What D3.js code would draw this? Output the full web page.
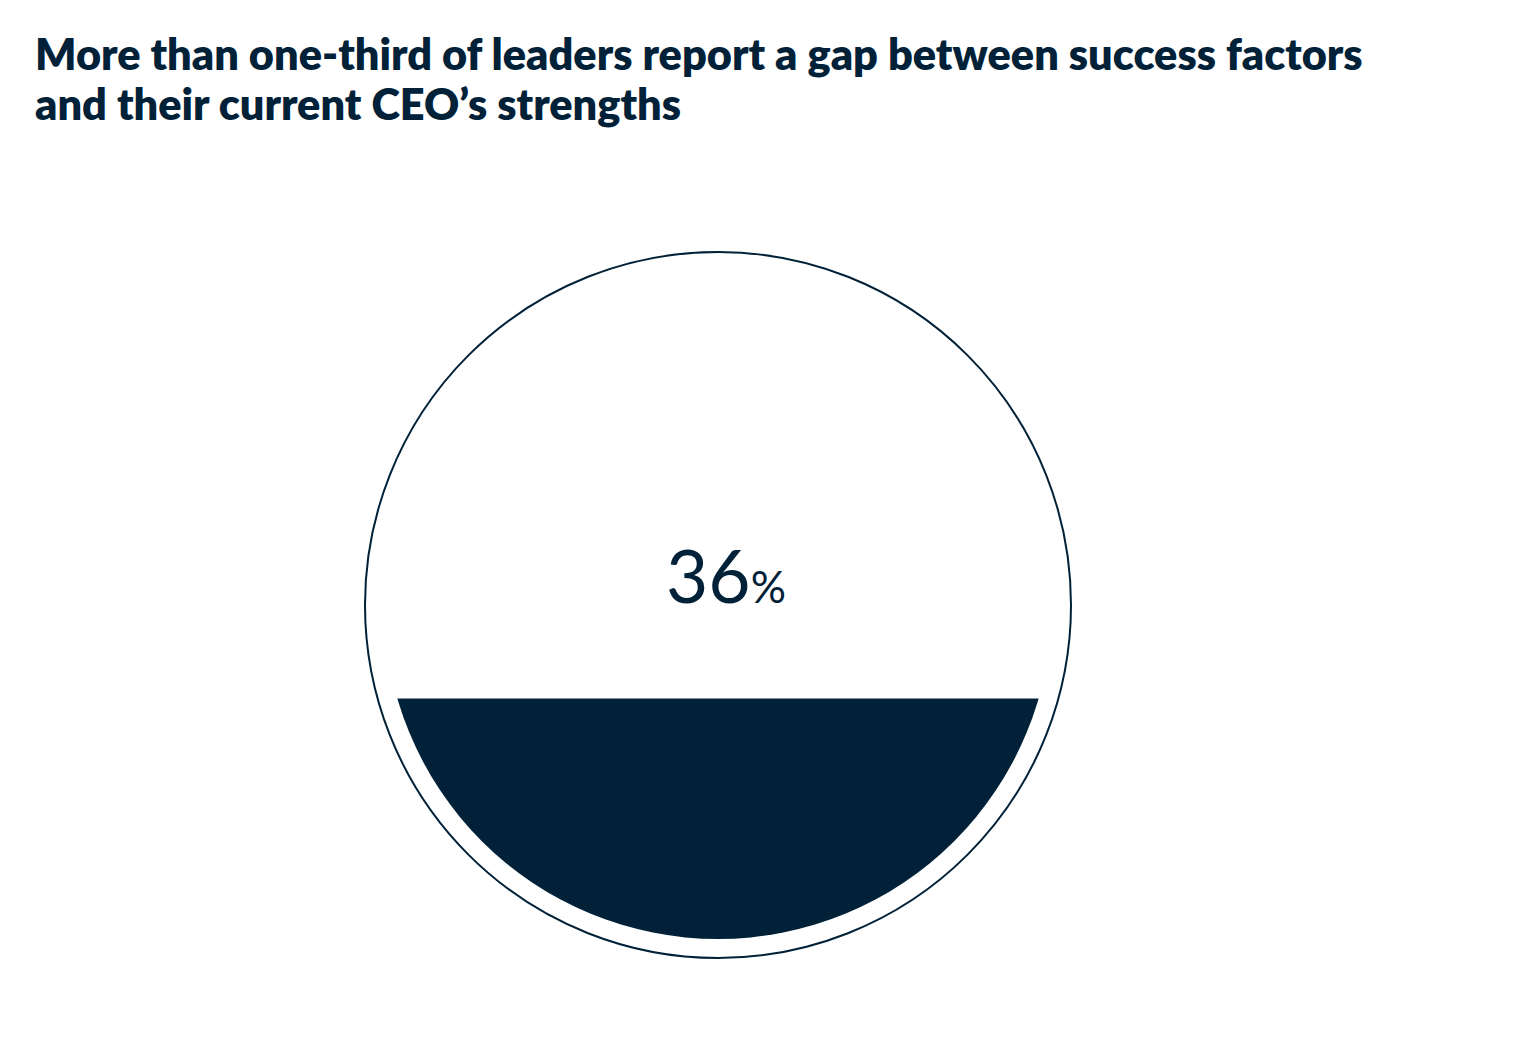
<!DOCTYPE html>
<html>
<head>
<meta charset="utf-8">
<script src="https://cdn.jsdelivr.net/npm/d3@7"></script>
<style>
  body { margin: 0; background: #ffffff; }
  svg { display: block; }
</style>
</head>
<body>
<div id="chart"></div>
<script>
// data
var titleLines = ["More than one-third of leaders report a gap between success factors",
                  "and their current CEO\u2019s strengths"];
var shareValue = [0.36];
var shareLabel = ["36"];

var navy = "#012138";

var width = 1518,
    height = 1052,
    cx = 718,
    cy = 605,
    outerR = 353,
    innerR = 334;

var svg = d3.select("#chart")
    .append("svg")
    .attr("width", width)
    .attr("height", height);

// title, two lines, fitted to the width of the original
var title = svg.append("g").attr("class", "title");
title.selectAll("text")
    .data(titleLines)
    .enter()
    .append("text")
    .attr("x", 35)
    .attr("y", (d, i) => 70 + i * 50)
    .style("font-family", "Lato, 'Open Sans', sans-serif")
    .style("font-weight", 800)
    .style("font-size", "38px")
    .style("fill", navy)
    .text(d => d);

var firstLen = title.select("text").node().getComputedTextLength();
var fitSize = 38 * 1328 / firstLen;
title.selectAll("text").style("font-size", fitSize + "px");

// fill level scale: share of the inner circle's height
var yScale = d3.scaleLinear()
    .domain([0, 1])
    .range([cy + innerR, cy - innerR]);

svg.append("defs")
  .append("clipPath")
    .attr("id", "innerClip")
  .append("circle")
    .attr("cx", cx)
    .attr("cy", cy)
    .attr("r", innerR);

// outline
svg.append("circle")
    .attr("cx", cx)
    .attr("cy", cy)
    .attr("r", outerR)
    .attr("fill", "none")
    .attr("stroke", navy)
    .attr("stroke-width", 2);

// filled part
svg.selectAll(".level")
    .data(shareValue)
    .enter()
    .append("rect")
    .attr("class", "level")
    .attr("clip-path", "url(#innerClip)")
    .attr("x", cx - innerR)
    .attr("width", innerR * 2)
    .attr("y", d => yScale(d))
    .attr("height", d => yScale(0) - yScale(d))
    .attr("fill", navy);

// label
var label = svg.append("text")
    .attr("x", 726)
    .attr("y", 603)
    .attr("text-anchor", "middle")
    .style("font-family", "Lato, 'Open Sans', sans-serif")
    .style("font-weight", 400)
    .style("fill", navy);

label.append("tspan")
    .style("font-size", "73px")
    .text(shareLabel[0]);

label.append("tspan")
    .style("font-size", "44px")
    .text("%");
</script>
</body>
</html>
